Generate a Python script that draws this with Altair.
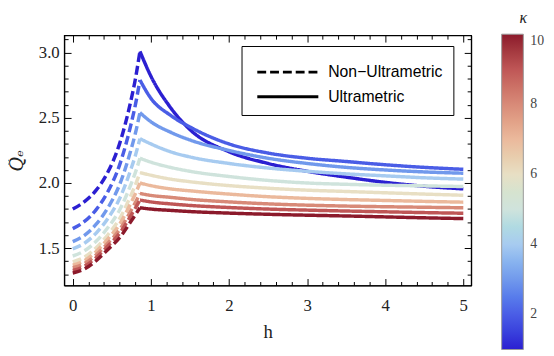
import altair as alt
import pandas as pd

# ---------------- data ----------------
KAPPA = [1, 2, 3, 4, 5, 6, 7, 8, 9, 10]
COLORS = ["#2b1fd1", "#4a5de6", "#7199ec", "#a7cbf0", "#cfe3dc",
          "#e8dfc4", "#ebb99c", "#d88a78", "#bf5656", "#8c1a2b"]
TYPES = ["Non\u2212Ultrametric", "Ultrametric"]

H_DASH = [0, 0.15, 0.3, 0.45, 0.6, 0.75, 0.8, 0.86]
H_SOLID = [0.86, 1.0, 1.25, 1.5, 2.0, 2.5, 3.0, 3.5, 4.0, 4.5, 5.0]

NON_ULTRA = [
    [1.80, 1.857, 1.945, 2.084, 2.302, 2.647, 2.792, 3.01],
    [1.65, 1.705, 1.796, 1.934, 2.139, 2.461, 2.594, 2.79],
    [1.55, 1.599, 1.684, 1.810, 1.988, 2.265, 2.377, 2.54],
    [1.495, 1.538, 1.616, 1.729, 1.881, 2.115, 2.208, 2.34],
    [1.44, 1.480, 1.553, 1.658, 1.793, 1.998, 2.078, 2.19],
    [1.395, 1.432, 1.504, 1.603, 1.727, 1.913, 1.983, 2.08],
    [1.37, 1.405, 1.475, 1.571, 1.684, 1.853, 1.916, 2.00],
    [1.35, 1.383, 1.449, 1.539, 1.642, 1.793, 1.848, 1.92],
    [1.33, 1.362, 1.428, 1.517, 1.614, 1.756, 1.806, 1.87],
    [1.31, 1.340, 1.405, 1.490, 1.580, 1.710, 1.755, 1.81],
]

ULTRA = [
    [3.01, 2.82, 2.58, 2.41, 2.24, 2.15, 2.09, 2.045, 2.005, 1.975, 1.955],
    [2.79, 2.65, 2.52, 2.43, 2.30, 2.23, 2.19, 2.165, 2.14, 2.12, 2.105],
    [2.54, 2.47, 2.39, 2.33, 2.25, 2.19, 2.15, 2.12, 2.10, 2.085, 2.075],
    [2.34, 2.30, 2.24, 2.20, 2.15, 2.115, 2.09, 2.07, 2.055, 2.04, 2.03],
    [2.19, 2.16, 2.12, 2.09, 2.05, 2.02, 2.00, 1.99, 1.983, 1.978, 1.973],
    [2.08, 2.06, 2.03, 2.01, 1.98, 1.96, 1.945, 1.935, 1.925, 1.915, 1.906],
    [2.00, 1.98, 1.955, 1.94, 1.915, 1.895, 1.882, 1.873, 1.866, 1.859, 1.853],
    [1.92, 1.905, 1.89, 1.875, 1.855, 1.84, 1.83, 1.823, 1.818, 1.814, 1.81],
    [1.87, 1.855, 1.84, 1.828, 1.812, 1.80, 1.792, 1.785, 1.779, 1.773, 1.768],
    [1.81, 1.80, 1.79, 1.781, 1.769, 1.76, 1.753, 1.747, 1.74, 1.733, 1.727],
]

X_MAJOR = [0, 1, 2, 3, 4, 5]
X_MINOR = [0.2, 0.4, 0.6, 0.8, 1.2, 1.4, 1.6, 1.8, 2.2, 2.4, 2.6, 2.8,
           3.2, 3.4, 3.6, 3.8, 4.2, 4.4, 4.6, 4.8]
Y_MAJOR = [1.5, 2.0, 2.5, 3.0]
Y_MINOR = [1.3, 1.4, 1.6, 1.7, 1.8, 1.9, 2.1, 2.2, 2.3, 2.4,
           2.6, 2.7, 2.8, 2.9, 3.1]
CBAR_TICKS = [2, 4, 6, 8, 10]

rows = []
for k, dv, sv in zip(KAPPA, NON_ULTRA, ULTRA):
    for h, q in zip(H_DASH, dv):
        rows.append({"h": h, "Q": q, "kappa": k, "type": TYPES[0]})
    for h, q in zip(H_SOLID, sv):
        rows.append({"h": h, "Q": q, "kappa": k, "type": TYPES[1]})
df = pd.DataFrame(rows)

SERIF = "Liberation Serif"
SANS = "Liberation Sans"

xs = alt.Scale(domain=[-0.11, 5.1], nice=False, zero=False)
ys = alt.Scale(domain=[1.214, 3.134], nice=False, zero=False)


def axis(orient, values, size, labels=False, **kw):
    base = dict(orient=orient, values=values, tickSize={"expr": str(-size)},
                tickColor="black", tickWidth=1, grid=False, labels=labels)
    if not labels:
        base["title"] = ""
    base.update(kw)
    return alt.Axis(**base)


x_bottom = axis("bottom", X_MAJOR, 7, labels=True, format="d",
                domainColor="black", domainWidth=1.2,
                labelFont=SERIF, labelFontSize=17, labelColor="#222",
                labelPadding=19, title="h", titleFont=SERIF, titleFontSize=19,
                titleFontWeight="normal", titleColor="#222", titlePadding=10)
y_left = axis("left", Y_MAJOR, 7, labels=True, format=".1f",
              domainColor="black", domainWidth=1.2,
              labelFont=SERIF, labelFontSize=17, labelColor="#222",
              labelPadding=12, title="Q\u0302\u2091", titleFont="DejaVu Serif",
              titleFontStyle="italic", titleFontSize=18,
              titleFontWeight="normal", titleColor="#222", titlePadding=12)

lines = alt.Chart(df).mark_line(strokeWidth=3.5, interpolate="monotone").encode(
    x=alt.X("h:Q", scale=xs, axis=x_bottom),
    y=alt.Y("Q:Q", scale=ys, axis=y_left),
    color=alt.Color(
        "kappa:Q",
        scale=alt.Scale(domain=KAPPA, range=COLORS),
        legend=alt.Legend(
            orient="none", legendX=444, legendY=-25, direction="vertical",
            gradientLength=320, gradientThickness=22, values=CBAR_TICKS,
            title="\u03ba", titleFont=SERIF, titleFontStyle="italic",
            titleFontSize=16, titleFontWeight="normal", titleColor="#222",
            titleAnchor="middle", titlePadding=8,
            labelFont=SERIF, labelFontSize=14, labelColor="#444",
            labelOffset=7, labelBaseline="middle",
            gradientStrokeColor="#999", gradientStrokeWidth=1, padding=0,
        ),
    ),
    strokeDash=alt.StrokeDash(
        "type:N",
        scale=alt.Scale(domain=TYPES, range=[[9, 4], [1, 0]]),
        legend=alt.Legend(
            orient="none", legendX=180, legendY=11, title=None,
            symbolType="M-0.7,0H3.43", symbolSize=900, symbolStrokeWidth=3,
            symbolStrokeColor="black", labelFont=SANS, labelFontSize=16,
            labelColor="black", labelOffset=45, padding=10, rowPadding=0,
            fillColor="white", strokeColor="black",
        ),
    ),
    detail="kappa:N",
)


def ghost(xaxis, yaxis):
    return alt.Chart(df).mark_point(opacity=0).encode(
        x=alt.X("h:Q", scale=xs, axis=xaxis),
        y=alt.Y("Q:Q", scale=ys, axis=yaxis),
    )


minor_bl = ghost(axis("bottom", X_MINOR, 4, domain=False),
                 axis("left", Y_MINOR, 4, domain=False))
major_tr = ghost(axis("top", X_MAJOR, 7, domainColor="black", domainWidth=1.2),
                 axis("right", Y_MAJOR, 7, domainColor="black", domainWidth=1.2))
minor_tr = ghost(axis("top", X_MINOR, 4, domain=False),
                 axis("right", Y_MINOR, 4, domain=False))

chart = alt.layer(lines, minor_bl, major_tr, minor_tr).resolve_axis(
    x="independent", y="independent"
).properties(
    width=413, height=254,
    autosize=alt.AutoSizeParams(type="none"),
    padding={"left": 57, "top": 25, "right": 76, "bottom": 69},
).configure_view(stroke="black", strokeWidth=1.2)

chart.save("out.html", embed_options={"renderer": "svg", "actions": False})
